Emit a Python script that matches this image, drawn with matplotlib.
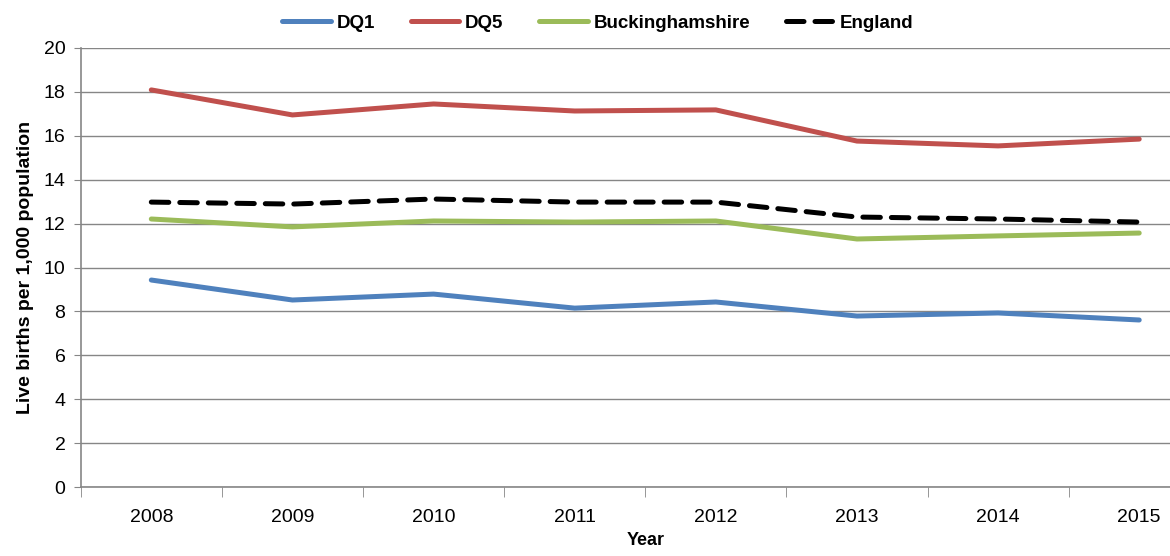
import numpy as np
from matplotlib import pyplot as plt

years = ['2008', '2009', '2010', '2011', '2012', '2013', '2014', '2015']
dq1 = [9.43, 8.52, 8.79, 8.15, 8.43, 7.79, 7.93, 7.61]
dq5 = [18.09, 16.95, 17.45, 17.13, 17.18, 15.76, 15.54, 15.85]
bucks = [12.21, 11.85, 12.12, 12.07, 12.12, 11.30, 11.44, 11.57]
england = [12.98, 12.89, 13.12, 12.98, 12.98, 12.30, 12.21, 12.07]

plt.rcParams['font.family'] = ['Liberation Sans', 'DejaVu Sans']

fig = plt.figure(figsize=(11.7, 5.56), dpi=100)
ax = fig.add_axes([0.069, 0.124, 0.965, 0.7897])

x = np.arange(len(years))
lw = 3.6
ax.plot(x, dq1, color='#4F81BD', lw=lw, label='DQ1', solid_capstyle='round')
ax.plot(x, dq5, color='#C0504D', lw=lw, label='DQ5', solid_capstyle='round')
ax.plot(x, bucks, color='#9BBB59', lw=lw, label='Buckinghamshire', solid_capstyle='round')
ax.plot(x, england, color='black', lw=lw, label='England', dashes=(3.5, 2.2), dash_capstyle='round')

ax.set_xlim(-0.5, len(years) - 0.5)
ax.set_ylim(0, 20)
ax.set_yticks(range(0, 21, 2))
ax.yaxis.grid(True, color='#868686', lw=1)
ax.set_axisbelow(True)

ax.set_xticks(x)
ax.set_xticklabels(years, fontsize=14)
ax.set_xticks(np.arange(-0.5, len(years)), minor=True)
ax.tick_params(axis='x', which='major', length=0, pad=16)
ax.tick_params(axis='x', which='minor', length=7, color='#868686')
ax.tick_params(axis='y', length=5, color='#868686', labelsize=14, pad=6)

for s in ['top', 'right']:
    ax.spines[s].set_visible(False)
for s in ['left', 'bottom']:
    ax.spines[s].set_color('#868686')
    ax.spines[s].set_linewidth(1.2)

ax.set_ylabel('Live births per 1,000 population', fontsize=14, fontweight='bold', labelpad=7)
ax.set_xlabel('Year', fontsize=13, fontweight='bold', labelpad=4)

leg = fig.legend(loc='center', bbox_to_anchor=(0.511, 0.958), ncol=4, frameon=False,
                 prop={'weight': 'bold', 'size': 13.5}, handlelength=2.6,
                 columnspacing=1.9, handletextpad=0.3)

fig.savefig('out.png', dpi=100)
